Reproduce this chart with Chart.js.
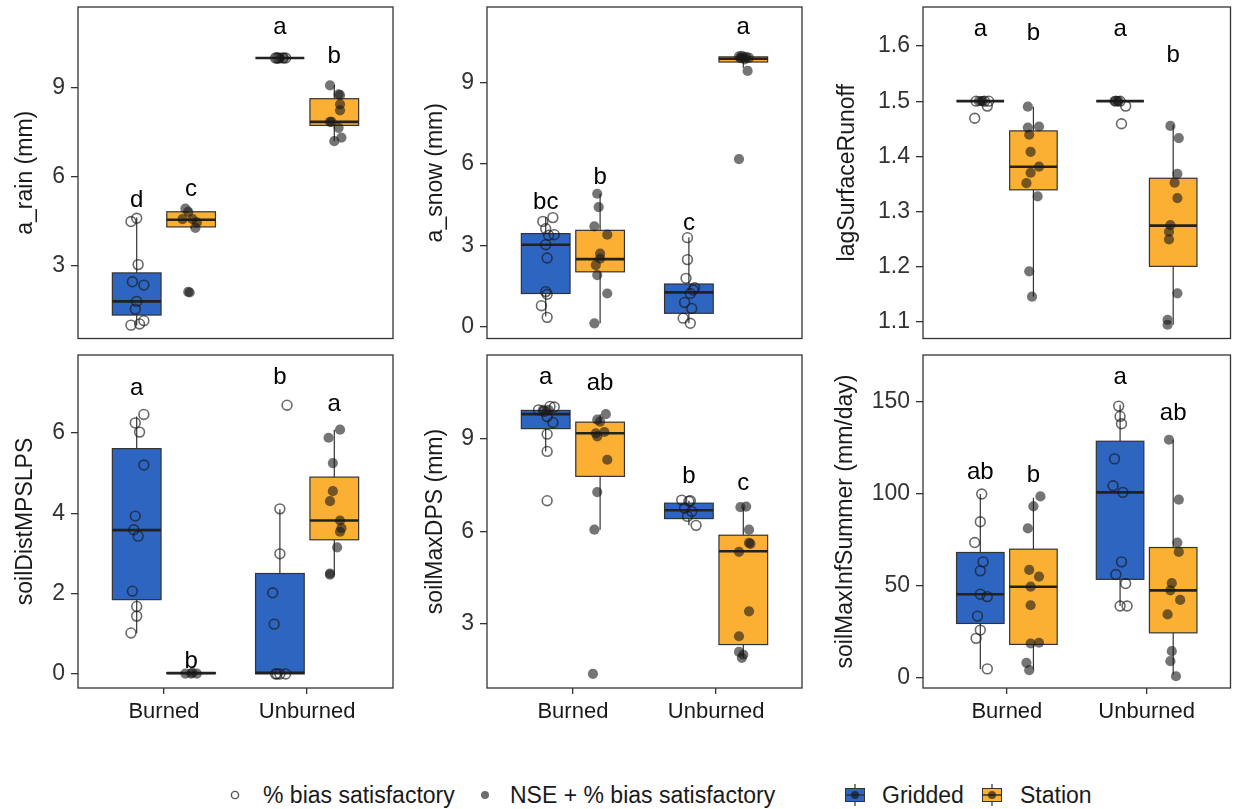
<!DOCTYPE html>
<html>
<head>
<meta charset="utf-8">
<script src="https://cdn.jsdelivr.net/npm/chart.js@4.4.0/dist/chart.umd.min.js"></script>
<style>
  body { margin: 0; background: #fff; font-family: "Liberation Sans", Arial, sans-serif; }
  #wrap { position: relative; width: 1237px; height: 809px; background: #fff; overflow: hidden; }
  .cell { position: absolute; }
  .lg { position: absolute; font-size: 23px; color: #1a1a1a; line-height: 26px; top: 782px; white-space: nowrap; }
  .sym { position: absolute; }
</style>
</head>
<body>
<div id="wrap">
  <svg class="sym" style="left:229px;top:789px" width="12" height="12"><circle cx="6" cy="6" r="3.6" fill="none" stroke="#555" stroke-width="1.4"/></svg>
  <div class="lg" style="left:263px">% bias satisfactory</div>
  <svg class="sym" style="left:479px;top:789px" width="12" height="12"><circle cx="6" cy="6" r="4" fill="#6e6e6e"/></svg>
  <div class="lg" style="left:510px">NSE + % bias satisfactory</div>
  <svg class="sym" style="left:843px;top:782px" width="24" height="26"><line x1="12" y1="2" x2="12" y2="24" stroke="#333" stroke-width="1.2"/><rect x="2.5" y="6.5" width="19" height="13" fill="#2d65c0" stroke="#333" stroke-width="1"/><line x1="2.5" y1="13" x2="21.5" y2="13" stroke="#333" stroke-width="1.5"/><circle cx="12" cy="13" r="4" fill="rgba(20,20,20,0.65)"/></svg>
  <div class="lg" style="left:882px">Gridded</div>
  <svg class="sym" style="left:980px;top:782px" width="24" height="26"><line x1="12" y1="2" x2="12" y2="24" stroke="#333" stroke-width="1.2"/><rect x="2.5" y="6.5" width="19" height="13" fill="#fbb034" stroke="#333" stroke-width="1"/><line x1="2.5" y1="13" x2="21.5" y2="13" stroke="#333" stroke-width="1.5"/><circle cx="12" cy="13" r="4" fill="rgba(20,20,20,0.65)"/></svg>
  <div class="lg" style="left:1020px">Station</div>
</div>
<script>
// categories and series
const categories = ['Burned', 'Unburned'];
const seriesNames = ['Gridded', 'Station'];
const panelTitles = ['a_rain (mm)', 'a_snow (mm)', 'lagSurfaceRunoff', 'soilDistMPSLPS', 'soilMaxDPS (mm)', 'soilMaxInfSummer (mm/day)'];
const yTicks = [[3, 6, 9], [0, 3, 6, 9], [1.1, 1.2, 1.3, 1.4, 1.5, 1.6], [0, 2, 4, 6], [3, 6, 9], [0, 50, 100, 150]];
const yRanges = [[0.55, 11.72], [-0.44, 11.79], [1.069, 1.671], [-0.35, 7.94], [0.92, 11.73], [-5.5, 175.6]];

// box stats per group: [whisker low, q1, median, q3, whisker high]
// group order: Gridded Burned, Station Burned, Gridded Unburned, Station Unburned
const rainBoxes = [[1.0, 1.34, 1.8, 2.76, 4.63], [4.26, 4.31, 4.55, 4.82, 4.93], [10, 10, 10, 10, 10], [7.2, 7.73, 7.85, 8.63, 9.08]];
const snowBoxes = [[0.37, 1.22, 3.02, 3.43, 4.04], [0.12, 2.02, 2.49, 3.55, 4.9], [0.12, 0.49, 1.26, 1.57, 3.3], [9.55, 9.76, 9.88, 9.95, 10.0]];
const lagBoxes = [[1.5, 1.5, 1.5, 1.5, 1.5], [1.145, 1.339, 1.381, 1.446, 1.49], [1.5, 1.5, 1.5, 1.5, 1.5], [1.094, 1.2, 1.274, 1.36, 1.457]];
const distBoxes = [[1.02, 1.85, 3.58, 5.61, 6.41], [0, 0.01, 0.02, 0.03, 0.04], [0, 0, 0.03, 2.5, 4.1], [2.47, 3.34, 3.82, 4.9, 6.08]];
const dpsBoxes = [[8.6, 9.34, 9.81, 9.93, 10.06], [6.06, 7.79, 9.19, 9.55, 9.81], [6.2, 6.42, 6.69, 6.92, 7.0], [1.9, 2.33, 5.36, 5.88, 6.8]];
const infBoxes = [[4.9, 29.6, 45.5, 68.2, 100], [4.5, 18.2, 49.6, 70, 98], [39.1, 53.6, 100.9, 128.7, 148.5], [1.8, 24.5, 47.6, 70.9, 129.5]];

// jittered runs [x, value]; open = % bias satisfactory, filled = NSE + % bias satisfactory
const rainOpen = [[0.77, 4.49], [0.81, 4.6], [0.82, 3.04], [0.78, 2.46], [0.86, 2.35], [0.81, 1.8], [0.80, 1.54], [0.86, 1.15], [0.77, 1.0], [0.83, 1.04],
  [1.78, 10], [1.80, 10], [1.83, 10], [1.85, 10], [1.79, 10]];
const rainFilled = [[1.15, 4.93], [1.17, 4.82], [1.13, 4.57], [1.2, 4.57], [1.23, 4.46], [1.22, 4.28], [1.17, 2.12], [1.18, 2.1],
  [1.81, 10], [1.84, 10], [1.80, 10],
  [2.16, 9.08], [2.22, 8.78], [2.23, 8.75], [2.23, 8.44], [2.23, 8.24], [2.16, 7.85], [2.17, 7.85], [2.22, 7.65], [2.19, 7.2], [2.24, 7.32]];
const snowOpen = [[0.79, 3.88], [0.86, 4.02], [0.81, 3.61], [0.87, 3.39], [0.83, 3.37], [0.81, 3.02], [0.82, 2.53], [0.81, 1.29], [0.82, 1.19], [0.78, 0.77], [0.82, 0.34],
  [1.80, 3.28], [1.80, 2.47], [1.79, 1.78], [1.84, 1.35], [1.82, 1.22], [1.78, 0.89], [1.83, 0.67], [1.77, 0.31], [1.82, 0.12], [1.85, 1.43]];
const snowFilled = [[1.17, 4.9], [1.18, 4.41], [1.15, 3.7], [1.24, 3.39], [1.19, 2.69], [1.19, 2.51], [1.16, 2.27], [1.17, 1.9], [1.24, 1.22], [1.15, 0.12],
  [2.16, 9.97], [2.18, 9.99], [2.21, 9.95], [2.23, 9.91], [2.20, 9.86], [2.19, 9.93], [2.17, 9.9], [2.22, 9.43], [2.16, 6.18]];
const lagOpen = [[0.78, 1.5], [0.84, 1.5], [0.87, 1.5], [0.86, 1.491], [0.77, 1.469],
  [1.78, 1.5], [1.81, 1.5], [1.85, 1.491], [1.82, 1.459]];
const lagFilled = [[0.80, 1.5], [0.83, 1.5], [0.82, 1.5], [1.79, 1.5], [1.80, 1.5], [1.77, 1.5],
  [1.15, 1.49], [1.15, 1.452], [1.23, 1.454], [1.16, 1.439], [1.17, 1.408], [1.23, 1.381], [1.17, 1.37], [1.14, 1.351], [1.22, 1.327], [1.16, 1.191], [1.18, 1.145],
  [2.17, 1.455], [2.23, 1.433], [2.22, 1.368], [2.20, 1.352], [2.22, 1.324], [2.17, 1.275], [2.16, 1.263], [2.16, 1.249], [2.22, 1.151], [2.15, 1.103], [2.15, 1.094]];
const distOpen = [[0.86, 6.46], [0.80, 6.25], [0.83, 6.02], [0.86, 5.2], [0.80, 3.93], [0.79, 3.59], [0.82, 3.43], [0.78, 2.06], [0.81, 1.68], [0.81, 1.44], [0.77, 1.02],
  [1.86, 6.69], [1.81, 4.11], [1.81, 2.99], [1.76, 2.02], [1.77, 1.24], [1.78, 0], [1.81, 0], [1.85, 0], [1.79, 0]];
const distFilled = [[1.15, 0.01], [1.19, 0.01], [1.23, 0.01], [1.20, 0.03],
  [2.23, 6.08], [2.15, 5.88], [2.18, 5.25], [2.18, 4.55], [2.16, 4.3], [2.23, 3.82], [2.24, 3.63], [2.23, 3.54], [2.21, 3.15], [2.16, 2.47], [2.16, 2.5]];
const dpsOpen = [[0.76, 9.95], [0.84, 10.06], [0.87, 10.04], [0.80, 9.9], [0.82, 9.73], [0.86, 9.54], [0.82, 9.16], [0.82, 8.6], [0.82, 7.0],
  [1.76, 7.02], [1.81, 6.98], [1.78, 6.76], [1.83, 6.65], [1.80, 6.49], [1.86, 6.2], [1.82, 7.0]];
const dpsFilled = [[0.79, 9.95], [0.83, 9.95],
  [1.23, 9.81], [1.17, 9.63], [1.19, 9.57], [1.16, 9.19], [1.22, 9.23], [1.17, 9.09], [1.24, 8.33], [1.17, 7.28], [1.15, 6.06], [1.14, 1.38],
  [2.17, 6.79], [2.21, 6.81], [2.23, 6.06], [2.23, 5.63], [2.24, 5.6], [2.16, 5.34], [2.23, 3.41], [2.16, 2.6], [2.16, 2.09], [2.18, 1.9], [2.19, 2.0]];
const infOpen = [[0.82, 100], [0.81, 84.9], [0.77, 73.6], [0.83, 63.1], [0.81, 58.2], [0.81, 45.5], [0.86, 44.2], [0.79, 33.6], [0.81, 26], [0.78, 21.5], [0.86, 4.9],
  [1.80, 147.8], [1.81, 142.2], [1.82, 138.2], [1.77, 119.1], [1.76, 104.5], [1.83, 100.9], [1.82, 63.1], [1.78, 56.2], [1.85, 51.3], [1.81, 39.1], [1.86, 39.1]];
const infFilled = [[1.24, 98.7], [1.19, 93.3], [1.15, 81.3], [1.16, 58.7], [1.23, 55.1], [1.17, 49.6], [1.17, 39.5], [1.17, 18.7], [1.23, 19.1], [1.14, 8.2], [1.16, 4.2],
  [2.16, 129.5], [2.23, 96.9], [2.22, 73.6], [2.23, 68.5], [2.18, 51.5], [2.17, 47.6], [2.24, 42.4], [2.15, 34.5], [2.18, 14.5], [2.17, 9.1], [2.21, 0.9]];

// significance letters [text, value] per group
const rainLetters = [['d', 5.19], ['c', 5.56], ['a', 11.02], ['b', 10.04]];
const snowLetters = [['bc', 4.57], ['b', 5.51], ['c', 3.8], ['a', 11.02]];
const lagLetters = [['a', 1.63], ['b', 1.623], ['a', 1.63], ['b', 1.584]];
const distLetters = [['a', 7.12], ['b', 0.32], ['b', 7.39], ['a', 6.7]];
const dpsLetters = [['a', 11.01], ['ab', 10.82], ['b', 7.79], ['c', 7.57]];
const infLetters = [['ab', 111.8], ['b', 110.4], ['a', 163.3], ['ab', 144]];

const allBoxes = [rainBoxes, snowBoxes, lagBoxes, distBoxes, dpsBoxes, infBoxes];
const allOpen = [rainOpen, snowOpen, lagOpen, distOpen, dpsOpen, infOpen];
const allFilled = [rainFilled, snowFilled, lagFilled, distFilled, dpsFilled, infFilled];
const allLetters = [rainLetters, snowLetters, lagLetters, distLetters, dpsLetters, infLetters];

const fillColors = ['#2d65c0', '#fbb034'];
const dodge = 0.19, halfBox = 0.17;
const colLeft = [0, 410, 825], colWidth = [410, 415, 412], axisWidth = [78, 77, 98], padRight = [17, 23, 1];
const rowTop = [0, 345], rowHeight = [345, 390], padTop = [7, 10];
const titlePad = [12, 12, 9, 12, 12, 7];
const FONT = '"Liberation Sans", Arial, sans-serif';

function groupX(g) {
  return (g < 2 ? 1 : 2) + (g % 2 === 0 ? -dodge : dodge);
}

function boxPlugin(p) {
  return {
    id: 'boxes' + p,
    beforeDatasetsDraw(chart) {
      const ctx = chart.ctx, xs = chart.scales.x, ys = chart.scales.y;
      ctx.save();
      allBoxes[p].forEach(function (b, g) {
        const cx = xs.getPixelForValue(groupX(g));
        const x0 = xs.getPixelForValue(groupX(g) - halfBox);
        const x1 = xs.getPixelForValue(groupX(g) + halfBox);
        const yLo = ys.getPixelForValue(b[0]), yQ1 = ys.getPixelForValue(b[1]);
        const yMed = ys.getPixelForValue(b[2]), yQ3 = ys.getPixelForValue(b[3]);
        const yHi = ys.getPixelForValue(b[4]);
        ctx.strokeStyle = '#333';
        ctx.lineWidth = 1.2;
        ctx.beginPath();
        ctx.moveTo(cx, yHi); ctx.lineTo(cx, yQ3);
        ctx.moveTo(cx, yQ1); ctx.lineTo(cx, yLo);
        ctx.stroke();
        ctx.fillStyle = fillColors[g % 2];
        ctx.fillRect(x0, yQ3, x1 - x0, yQ1 - yQ3);
        ctx.strokeRect(x0, yQ3, x1 - x0, yQ1 - yQ3);
        ctx.lineWidth = 2.6;
        ctx.strokeStyle = '#222';
        ctx.beginPath();
        ctx.moveTo(x0, yMed); ctx.lineTo(x1, yMed);
        ctx.stroke();
      });
      ctx.restore();
    },
    afterDatasetsDraw(chart) {
      const ctx = chart.ctx, xs = chart.scales.x, ys = chart.scales.y;
      ctx.save();
      ctx.fillStyle = '#000';
      ctx.font = '24px ' + FONT;
      ctx.textAlign = 'center';
      ctx.textBaseline = 'middle';
      allLetters[p].forEach(function (l, g) {
        ctx.fillText(l[0], xs.getPixelForValue(groupX(g)), ys.getPixelForValue(l[1]));
      });
      ctx.restore();
    },
    afterDraw(chart) {
      const a = chart.chartArea, ctx = chart.ctx;
      ctx.save();
      ctx.strokeStyle = '#333';
      ctx.lineWidth = 1.3;
      ctx.strokeRect(a.left, a.top, a.right - a.left, a.bottom - a.top);
      ctx.restore();
    }
  };
}

const wrap = document.getElementById('wrap');
for (let p = 0; p < 6; p++) {
  const row = Math.floor(p / 3), col = p % 3;
  const cell = document.createElement('div');
  cell.className = 'cell';
  cell.style.left = colLeft[col] + 'px';
  cell.style.top = rowTop[row] + 'px';
  const canvas = document.createElement('canvas');
  canvas.width = colWidth[col];
  canvas.height = rowHeight[row];
  cell.appendChild(canvas);
  wrap.appendChild(cell);

  new Chart(canvas.getContext('2d'), {
    type: 'scatter',
    data: {
      datasets: [{
        label: '% bias satisfactory',
        data: allOpen[p].map(d => ({ x: d[0], y: d[1] })),
        pointRadius: 4.9,
        pointBackgroundColor: 'rgba(0,0,0,0)',
        pointBorderColor: 'rgba(25,25,25,0.65)',
        pointBorderWidth: 1.6
      }, {
        label: 'NSE + % bias satisfactory',
        data: allFilled[p].map(d => ({ x: d[0], y: d[1] })),
        pointRadius: 5.1,
        pointBackgroundColor: 'rgba(25,25,25,0.6)',
        pointBorderWidth: 0
      }]
    },
    options: {
      responsive: false,
      animation: false,
      devicePixelRatio: 1,
      layout: { padding: { top: padTop[row], right: padRight[col], left: 0, bottom: row === 0 ? 5 : 0 } },
      plugins: { legend: { display: false }, tooltip: { enabled: false } },
      scales: {
        x: {
          type: 'linear', min: 0.4, max: 2.6,
          display: row === 1,
          afterBuildTicks: s => { s.ticks = [{ value: 1 }, { value: 2 }]; },
          afterFit: s => {
            s.height = row === 1 ? 47 : 0;
            s.paddingLeft = 0; s.paddingRight = 0;
          },
          ticks: {
            callback: v => categories[Math.round(v) - 1],
            color: '#1a1a1a', font: { size: 22, family: FONT }, padding: 5, maxRotation: 0
          },
          grid: { drawOnChartArea: false, color: '#333', tickLength: 6, lineWidth: 1.3 },
          border: { display: false }
        },
        y: {
          type: 'linear', min: yRanges[p][0], max: yRanges[p][1],
          afterBuildTicks: s => { s.ticks = yTicks[p].map(v => ({ value: v })); },
          afterFit: s => {
            s.width = axisWidth[col];
            s.paddingTop = 0; s.paddingBottom = 0;
          },
          title: {
            display: true, text: panelTitles[p], color: '#1a1a1a',
            font: { size: 23, family: FONT }, padding: { top: titlePad[p], bottom: 0 }
          },
          ticks: {
            callback: v => (p === 2 ? v.toFixed(1) : String(v)),
            color: '#333', font: { size: 23, family: FONT }, padding: 6
          },
          grid: { drawOnChartArea: false, color: '#333', tickLength: 7, lineWidth: 1.3 },
          border: { display: false }
        }
      }
    },
    plugins: [boxPlugin(p)]
  });
}
</script>
</body>
</html>
